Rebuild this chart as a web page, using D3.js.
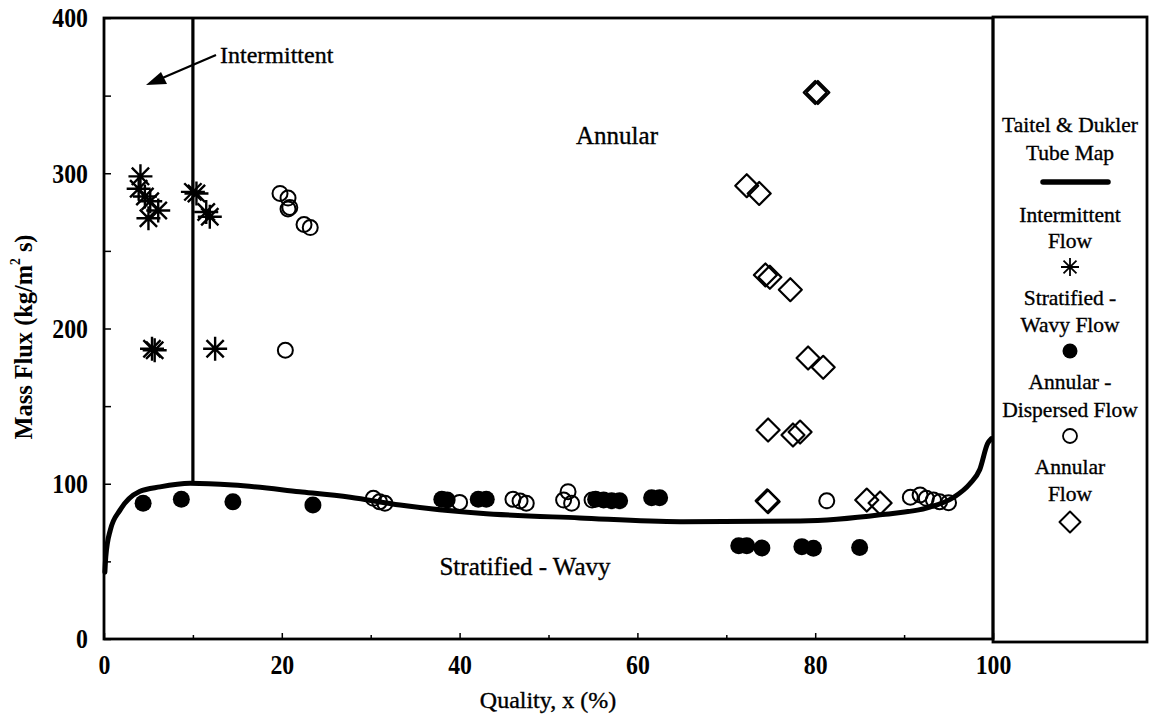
<!DOCTYPE html>
<html><head><meta charset="utf-8">
<script src="https://cdn.jsdelivr.net/npm/d3@7"></script>
<style>body{margin:0;background:#fff}svg{display:block}</style>
</head><body>
<script>
// ---- data ----
const curveX = [0.1, 0.2, 0.7, 1.8, 4.0, 6.3, 9.7, 14.5, 22.0, 27.7, 33.3, 42.3, 53.5, 64.8, 78.3, 87.3, 92.9, 95.5, 97.4, 98.5, 99.4, 99.8];
const curveY = [43, 53, 70, 83, 95, 98, 100.3, 99.2, 94.9, 91.3, 86.3, 81, 78, 75.6, 76, 80, 85, 91, 100, 109, 126, 129];

const intX = [4.1, 3.9, 4.6, 5.2, 6.1, 5.0, 10.0, 10.4, 11.5, 11.9, 5.4, 5.7, 12.5];
const intY = [298, 290, 285, 282, 276, 271, 288, 287, 275, 272, 187, 186, 187];

const swX = [4.4, 8.7, 14.5, 23.5, 38.0, 38.6, 42.1, 43.0, 55.3, 56.2, 57.1, 58.0, 61.6, 62.5, 71.4, 72.3, 74.0, 78.5, 79.8, 85.0];
const swY = [87.5, 90, 88.4, 86.3, 90, 89.5, 90, 90, 90, 89.5, 89, 89, 91, 91, 60, 60, 58.6, 59.5, 58.4, 59];

const adX = [19.8, 20.7, 20.7, 20.9, 22.5, 23.2, 20.4, 30.3, 31.0, 31.6, 40.0, 46.0, 46.8, 47.5, 51.7, 52.2, 52.6, 54.9, 81.3, 90.7, 91.8, 92.5, 93.3, 94.0, 95.0];
const adY = [287, 284, 277, 278, 267, 265, 186, 90.6, 88.4, 87.4, 88, 90, 88.9, 87.4, 89.5, 94.9, 87.4, 89.5, 89, 91.3, 92.8, 90.6, 89.5, 88.4, 87.8];

const anX = [80.0, 80.3, 72.3, 73.7, 74.4, 74.9, 77.2, 79.2, 80.9, 74.7, 77.5, 78.3, 74.6, 74.7, 85.8, 87.3];
const anY = [352, 352, 292, 287, 234.5, 233, 225, 181, 175, 134.6, 131.4, 133.3, 89, 88.5, 89.5, 87.6];

const xMajor = [0, 20, 40, 60, 80, 100];
const xMinor = [10, 30, 50, 70, 90];
const yMajor = [0, 100, 200, 300, 400];
const yMinor = [50, 150, 250, 350];

const legendLines = [
  {t: "Taitel & Dukler", y: 125}, {t: "Tube Map", y: 153},
  {t: "Intermittent", y: 215}, {t: "Flow", y: 241},
  {t: "Stratified -", y: 298}, {t: "Wavy Flow", y: 325},
  {t: "Annular -", y: 382}, {t: "Dispersed Flow", y: 410},
  {t: "Annular", y: 467}, {t: "Flow", y: 494}
];

// ---- layout ----
const W = 1149, H = 719;
const L = 104, R = 993, T = 18, B = 639;
const serif = "'Liberation Serif','DejaVu Serif',serif";

const svg = d3.select("body").append("svg").attr("width", W).attr("height", H);
const x = d3.scaleLinear().domain([0, 100]).range([L, R]);
const y = d3.scaleLinear().domain([0, 400]).range([B, T]);

// axes (ticks inward)
const gx = svg.append("g").attr("transform", `translate(0,${B})`)
  .call(d3.axisBottom(x).tickValues(xMajor).tickSizeInner(-6).tickSizeOuter(0).tickPadding(15).tickFormat(d3.format("d")));
const gxm = svg.append("g").attr("transform", `translate(0,${B})`)
  .call(d3.axisBottom(x).tickValues(xMinor).tickSizeInner(-4).tickSizeOuter(0).tickFormat(""));
const gy = svg.append("g").attr("transform", `translate(${L},0)`)
  .call(d3.axisLeft(y).tickValues(yMajor).tickSizeInner(-7).tickSizeOuter(0).tickPadding(16).tickFormat(d3.format("d")));
const gym = svg.append("g").attr("transform", `translate(${L},0)`)
  .call(d3.axisLeft(y).tickValues(yMinor).tickSizeInner(-7).tickSizeOuter(0).tickFormat(""));
[gx, gxm, gy, gym].forEach(g => {
  g.select(".domain").remove();
  g.selectAll("line").attr("stroke", "#000").attr("stroke-width", 1.5);
  g.selectAll("text").attr("font-family", serif).attr("font-weight", "bold").attr("font-size", 28).attr("fill", "#000");
});
gx.selectAll("text").attr("transform", "scale(0.85,1)");
gy.selectAll("text").attr("x", -16 / 0.85).attr("transform", "scale(0.85,1)");

// frame
svg.append("rect").attr("x", L).attr("y", T).attr("width", R - L).attr("height", B - T)
  .attr("fill", "none").attr("stroke", "#000").attr("stroke-width", 2.8);
// legend box
svg.append("rect").attr("x", R).attr("y", T - 1).attr("width", 1147 - R).attr("height", 642 - T + 1)
  .attr("fill", "none").attr("stroke", "#000").attr("stroke-width", 2.8);

// intermittent boundary
svg.append("line").attr("x1", x(10)).attr("x2", x(10)).attr("y1", T).attr("y2", y(100.3))
  .attr("stroke", "#000").attr("stroke-width", 3.2);

// boundary curve
const line = d3.line().x((d, i) => x(curveX[i])).y((d, i) => y(curveY[i])).curve(d3.curveMonotoneX);
svg.append("path").datum(curveX).attr("d", line).attr("fill", "none").attr("stroke", "#000").attr("stroke-width", 5).attr("stroke-linecap", "round");

// markers
function asterisk(g, cx, cy, s, sw) {
  const a = s, b = s * 0.72;
  const p = `M${cx - a},${cy}L${cx + a},${cy}M${cx},${cy - a}L${cx},${cy + a}M${cx - b},${cy - b}L${cx + b},${cy + b}M${cx - b},${cy + b}L${cx + b},${cy - b}`;
  g.append("path").attr("d", p).attr("stroke", "#000").attr("stroke-width", sw).attr("fill", "none");
}
function diamond(g, cx, cy, s, sw) {
  g.append("path").attr("d", `M${cx},${cy - s}L${cx + s},${cy}L${cx},${cy + s}L${cx - s},${cy}Z`)
    .attr("fill", "none").attr("stroke", "#000").attr("stroke-width", sw).attr("stroke-linejoin", "round");
}
const gm = svg.append("g");
adX.forEach((v, i) => gm.append("circle").attr("cx", x(v)).attr("cy", y(adY[i])).attr("r", 7.5)
  .attr("fill", "none").attr("stroke", "#000").attr("stroke-width", 2));
swX.forEach((v, i) => gm.append("circle").attr("cx", x(v)).attr("cy", y(swY[i])).attr("r", 8.5).attr("fill", "#000"));
anX.forEach((v, i) => diamond(gm, x(v), y(anY[i]), 11.5, 2.2));
intX.forEach((v, i) => asterisk(gm, x(v), y(intY[i]), 12, 2.4));

// region labels
function label(tx, ty, size, str, anchor) {
  return svg.append("text").attr("x", tx).attr("y", ty).attr("text-anchor", anchor || "middle").attr("dominant-baseline", "central")
    .attr("font-family", serif).attr("font-size", size).attr("stroke", "#000").attr("stroke-width", 0.35).text(str);
}
label(617, 135, 25, "Annular");
label(525, 566, 25, "Stratified - Wavy");
label(220, 55, 24, "Intermittent", "start");
// arrow
svg.append("line").attr("x1", 216).attr("y1", 55).attr("x2", 160).attr("y2", 79).attr("stroke", "#000").attr("stroke-width", 2.2);
svg.append("path").attr("d", "M146,85L161,72L167,84Z").attr("fill", "#000");

// axis titles
label(548, 700, 24, "Quality, x (%)");
svg.append("text").attr("transform", "translate(23,337) rotate(-90)").attr("text-anchor", "middle").attr("dominant-baseline", "central")
  .attr("font-family", serif).attr("font-weight", "bold").attr("font-size", 25)
  .attr("textLength", 205).attr("lengthAdjust", "spacingAndGlyphs")
  .html("Mass Flux (kg/m<tspan dy='-8' font-size='14'>2</tspan><tspan dy='8'> s)</tspan>");

// legend
const lcx = 1070;
legendLines.forEach(d => label(lcx, d.y, 21.5, d.t));
svg.append("line").attr("x1", 1043).attr("x2", 1108).attr("y1", 182).attr("y2", 182)
  .attr("stroke", "#000").attr("stroke-width", 5.5).attr("stroke-linecap", "round");
asterisk(svg, lcx, 267, 9, 1.8);
svg.append("circle").attr("cx", lcx).attr("cy", 351).attr("r", 7.5).attr("fill", "#000");
svg.append("circle").attr("cx", lcx).attr("cy", 436).attr("r", 7).attr("fill", "none").attr("stroke", "#000").attr("stroke-width", 1.8);
diamond(svg, lcx, 522, 10.5, 2);
</script>
</body></html>
